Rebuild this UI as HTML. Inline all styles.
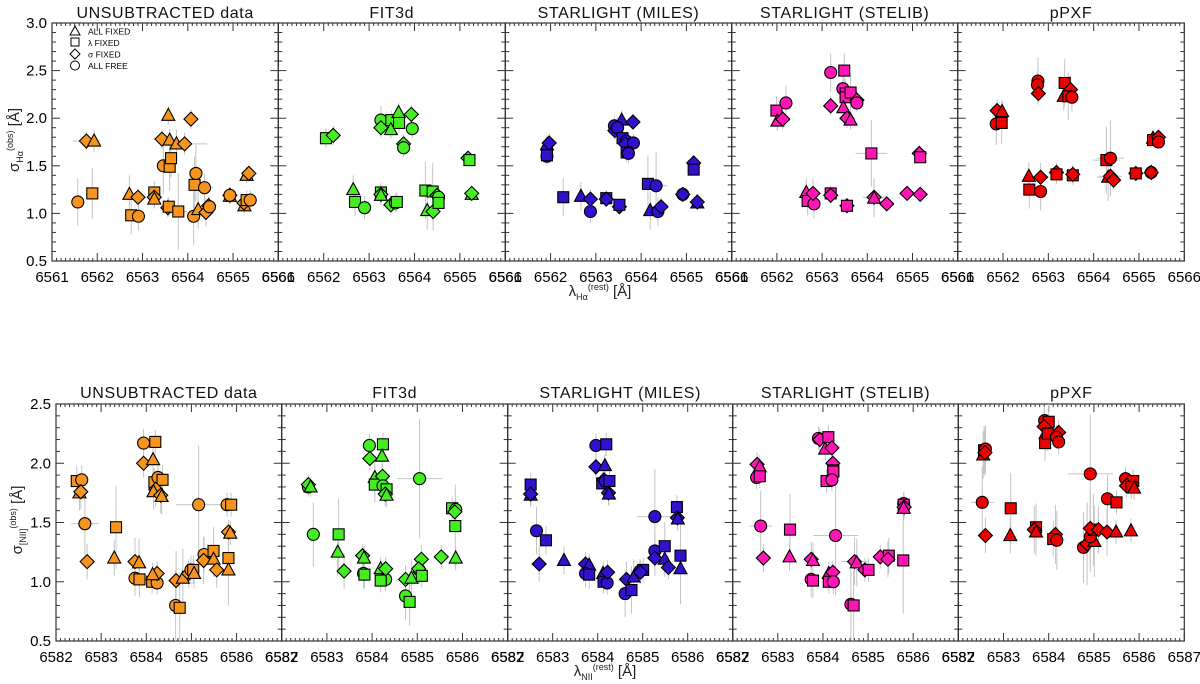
<!DOCTYPE html>
<html><head><meta charset="utf-8">
<style>
html,body{margin:0;padding:0;background:#fff;}
svg{display:block;font-family:"Liberation Sans",sans-serif;}
</style></head>
<body>
<svg id="fig" width="1200" height="684" viewBox="0 0 1200 684" xmlns="http://www.w3.org/2000/svg"></svg>
<script>
// ---- data: [shape, lambda, sigma, xerr, yerr]; T=all fixed, S=lambda fixed, D=sigma fixed, C=all free
const titles = ["UNSUBTRACTED data","FIT3d","STARLIGHT (MILES)","STARLIGHT (STELIB)","pPXF"];
const colors = ["#f7941d","#44ee22","#3311cc","#ff14b4","#ee0000"];
const topXTicks = [6561,6562,6563,6564,6565,6566];
const topYTicks = ["0.5","1.0","1.5","2.0","2.5","3.0"];
const botXTicks = [6582,6583,6584,6585,6586,6587];
const botYTicks = ["0.5","1.0","1.5","2.0","2.5"];

const haUnsub = [
["C",6561.57,1.12,0.15,0.25],["S",6561.89,1.21,0.05,0.27],["D",6561.76,1.76,0.3,0.1],["T",6561.93,1.76,0.08,0.12],
["T",6562.71,1.20,0.1,0.2],["S",6562.75,0.98,0.08,0.2],["C",6562.91,0.97,0.08,0.15],["D",6562.90,1.17,0.08,0.1],
["S",6563.26,1.22,0.08,0.12],["D",6563.26,1.17,0.1,0.1],["T",6563.26,1.15,0.1,0.1],["D",6563.43,1.78,0.2,0.1],
["C",6563.46,1.50,0.1,0.3],["S",6563.60,1.49,0.08,0.25],["S",6563.63,1.58,0.08,0.2],["T",6563.57,2.03,0.06,0.1],
["T",6563.60,1.77,0.15,0.12],["T",6563.75,1.73,0.3,0.15],["D",6563.93,1.73,0.5,0.12],["D",6563.56,1.06,0.1,0.1],
["S",6563.58,1.07,0.1,0.1],["S",6563.79,1.02,0.2,0.4],["D",6564.07,1.99,0.15,0.1],["S",6564.15,1.30,0.1,0.3],
["C",6564.18,1.42,0.1,0.3],["C",6564.13,0.97,0.15,0.3],["T",6564.23,1.04,0.1,0.2],["C",6564.37,1.27,0.2,0.15],
["D",6564.40,1.01,0.1,0.15],["D",6564.46,1.08,0.1,0.1],["C",6564.48,1.07,0.1,0.1],["T",6564.93,1.18,0.1,0.08],
["D",6564.93,1.19,0.1,0.08],["C",6564.93,1.19,0.1,0.08],["T",6565.25,1.08,0.1,0.08],["D",6565.24,1.11,0.1,0.08],
["S",6565.30,1.14,0.1,0.1],["C",6565.38,1.14,0.1,0.1],["T",6565.30,1.40,0.1,0.08],["D",6565.35,1.42,0.1,0.08]
];
const haFit = [
["S",6562.05,1.79,0.08,0.1],["D",6562.21,1.82,0.08,0.1],["T",6562.65,1.25,0.06,0.15],["S",6562.69,1.12,0.06,0.15],
["C",6562.90,1.06,0.06,0.12],["C",6563.26,1.98,0.06,0.15],["D",6563.26,1.90,0.06,0.1],["S",6563.26,1.22,0.06,0.1],
["D",6563.26,1.20,0.06,0.1],["T",6563.26,1.19,0.06,0.1],["S",6563.49,1.98,0.06,0.1],["T",6563.48,1.88,0.06,0.1],
["T",6563.65,2.06,0.06,0.1],["S",6563.66,1.95,0.06,0.1],["D",6563.93,2.04,0.06,0.1],["C",6563.95,1.89,0.06,0.1],
["D",6563.76,1.73,0.06,0.1],["C",6563.76,1.69,0.06,0.1],["D",6563.48,1.09,0.06,0.1],["C",6563.58,1.11,0.06,0.1],
["S",6563.61,1.12,0.06,0.1],["S",6564.24,1.24,0.1,0.3],["T",6564.28,1.03,0.1,0.2],["S",6564.40,1.23,0.1,0.3],
["D",6564.41,1.02,0.1,0.2],["D",6564.50,1.19,0.1,0.1],["C",6564.53,1.17,0.1,0.1],["S",6564.53,1.11,0.1,0.1],
["D",6565.18,1.58,0.06,0.05],["S",6565.21,1.56,0.06,0.05],["T",6565.26,1.20,0.06,0.05],["D",6565.26,1.21,0.06,0.05]
];
const haMiles = [
["T",6561.92,1.72,0.06,0.1],["D",6561.97,1.74,0.06,0.1],["C",6561.92,1.60,0.06,0.1],["S",6561.92,1.61,0.06,0.1],
["S",6562.28,1.17,0.05,0.2],["T",6562.67,1.18,0.1,0.15],["D",6562.88,1.15,0.06,0.1],["C",6562.88,1.02,0.06,0.12],
["S",6563.23,1.16,0.08,0.08],["D",6563.23,1.15,0.08,0.08],["C",6563.41,1.92,0.06,0.1],["D",6563.42,1.87,0.06,0.1],
["T",6563.57,1.98,0.06,0.1],["C",6563.48,1.90,0.06,0.1],["D",6563.82,1.96,0.06,0.08],["S",6563.59,1.79,0.06,0.1],
["C",6563.67,1.76,0.06,0.1],["D",6563.65,1.73,0.06,0.1],["C",6563.83,1.74,0.06,0.1],["S",6563.68,1.64,0.06,0.1],
["C",6563.72,1.63,0.06,0.1],["D",6563.52,1.07,0.06,0.06],["S",6563.52,1.09,0.06,0.06],["S",6564.15,1.31,0.1,0.3],
["C",6564.33,1.29,0.25,0.35],["T",6564.20,1.03,0.06,0.2],["C",6564.37,1.02,0.06,0.15],["D",6564.44,1.07,0.1,0.1],
["C",6564.92,1.20,0.06,0.06],["D",6564.92,1.20,0.06,0.06],["D",6565.16,1.53,0.05,0.05],["S",6565.16,1.46,0.05,0.05],
["T",6565.24,1.11,0.05,0.05],["D",6565.24,1.12,0.05,0.05]
];
const haStelib = [
["S",6561.99,2.08,0.06,0.15],["C",6562.20,2.16,0.06,0.18],["T",6562.01,1.97,0.06,0.1],["D",6562.13,1.99,0.06,0.1],
["T",6562.65,1.22,0.06,0.15],["S",6562.68,1.13,0.06,0.15],["C",6562.82,1.10,0.06,0.15],["D",6562.80,1.21,0.06,0.15],
["C",6563.19,2.48,0.06,0.2],["D",6563.19,2.13,0.06,0.1],["S",6563.19,1.21,0.06,0.08],["D",6563.19,1.19,0.06,0.08],
["S",6563.49,2.50,0.06,0.18],["C",6563.46,2.31,0.06,0.15],["S",6563.52,2.26,0.06,0.15],["S",6563.52,2.22,0.06,0.15],
["S",6563.63,2.27,0.06,0.2],["T",6563.47,2.11,0.06,0.1],["D",6563.55,2.00,0.06,0.1],["T",6563.63,1.98,0.06,0.1],
["D",6563.77,2.19,0.06,0.1],["C",6563.77,2.16,0.06,0.1],["D",6563.55,1.08,0.06,0.06],["S",6563.55,1.08,0.06,0.06],
["S",6564.09,1.63,0.35,0.35],["D",6564.15,1.17,0.25,0.2],["T",6564.15,1.16,0.2,0.2],["D",6564.43,1.10,0.06,0.06],
["D",6564.88,1.21,0.06,0.06],["D",6565.15,1.63,0.05,0.05],["S",6565.17,1.59,0.05,0.05],["D",6565.17,1.20,0.05,0.05]
];
const haPpxf = [
["D",6561.87,2.08,0.06,0.12],["T",6561.98,2.07,0.06,0.12],["C",6561.85,1.94,0.06,0.22],["S",6561.97,1.95,0.06,0.22],
["T",6562.57,1.39,0.06,0.15],["S",6562.58,1.25,0.06,0.2],["D",6562.83,1.38,0.06,0.15],["C",6562.83,1.23,0.06,0.2],
["C",6562.77,2.39,0.1,0.25],["C",6562.76,2.35,0.1,0.15],["D",6562.78,2.26,0.08,0.1],["D",6563.18,1.43,0.06,0.1],
["S",6563.18,1.41,0.06,0.1],["S",6563.36,2.37,0.06,0.25],["D",6563.49,2.30,0.06,0.15],["T",6563.34,2.23,0.06,0.15],
["S",6563.44,2.23,0.06,0.25],["C",6563.52,2.22,0.06,0.15],["S",6563.54,1.40,0.06,0.1],["D",6563.54,1.41,0.06,0.1],
["S",6564.28,1.56,0.3,0.35],["C",6564.37,1.58,0.3,0.4],["T",6564.32,1.38,0.25,0.25],["D",6564.37,1.39,0.25,0.2],
["D",6564.44,1.35,0.1,0.1],["D",6564.93,1.42,0.06,0.06],["S",6564.93,1.42,0.06,0.06],["C",6565.27,1.43,0.06,0.06],
["D",6565.27,1.43,0.06,0.06],["T",6565.31,1.79,0.06,0.06],["S",6565.31,1.77,0.06,0.06],["D",6565.43,1.80,0.06,0.06],
["C",6565.43,1.75,0.06,0.06]
];
const niiUnsub = [
["S",6582.46,1.85,0.06,0.12],["C",6582.57,1.86,0.06,0.12],["T",6582.52,1.75,0.06,0.15],["D",6582.55,1.76,0.06,0.15],
["C",6582.64,1.49,0.3,0.3],["D",6582.69,1.17,0.15,0.15],["S",6583.33,1.46,0.06,0.35],["T",6583.29,1.20,0.06,0.15],
["D",6583.75,1.17,0.06,0.2],["T",6583.84,1.16,0.06,0.2],["C",6583.75,1.03,0.06,0.15],["S",6583.85,1.02,0.06,0.15],
["C",6583.94,2.17,0.06,0.12],["D",6583.94,2.00,0.06,0.12],["T",6584.15,2.03,0.06,0.12],["S",6584.20,2.18,0.06,0.1],
["S",6584.18,1.84,0.06,0.12],["C",6584.26,1.88,0.06,0.12],["S",6584.36,1.86,0.06,0.12],["D",6584.21,1.78,0.06,0.15],
["T",6584.16,1.76,0.06,0.15],["D",6584.32,1.73,0.06,0.15],["T",6584.34,1.72,0.06,0.15],["S",6584.13,1.00,0.06,0.1],
["C",6584.24,0.99,0.06,0.1],["D",6584.24,1.07,0.06,0.1],["T",6584.14,1.06,0.06,0.1],["D",6584.66,1.01,0.1,0.25],
["T",6584.81,1.03,0.1,0.25],["C",6584.65,0.80,0.1,0.3],["S",6584.74,0.78,0.1,0.3],["D",6584.94,1.07,0.1,0.12],
["C",6584.99,1.10,0.1,0.12],["S",6585.04,1.10,0.1,0.12],["T",6585.06,1.07,0.1,0.12],["C",6585.16,1.65,0.5,0.5],
["C",6585.28,1.23,0.1,0.15],["D",6585.27,1.18,0.1,0.2],["S",6585.49,1.26,0.1,0.2],["T",6585.49,1.19,0.1,0.15],
["D",6585.56,1.10,0.1,0.15],["C",6585.79,1.65,0.06,0.1],["S",6585.88,1.65,0.06,0.1],["D",6585.82,1.42,0.06,0.1],
["T",6585.86,1.41,0.06,0.1],["S",6585.82,1.20,0.06,0.15],["T",6585.82,1.10,0.06,0.3]
];
const niiFit = [
["C",6582.59,1.80,0.06,0.08],["D",6582.59,1.82,0.06,0.08],["T",6582.64,1.80,0.06,0.08],["C",6582.70,1.40,0.15,0.27],
["S",6583.26,1.40,0.06,0.3],["T",6583.24,1.25,0.06,0.2],["D",6583.38,1.09,0.06,0.15],["D",6583.79,1.22,0.06,0.1],
["T",6583.82,1.20,0.06,0.1],["C",6583.81,1.07,0.06,0.12],["S",6583.83,1.06,0.06,0.12],["C",6583.94,2.15,0.06,0.1],
["D",6583.95,2.04,0.06,0.1],["S",6584.24,2.16,0.06,0.1],["T",6584.22,2.06,0.06,0.1],["T",6584.06,1.88,0.06,0.15],
["S",6584.06,1.82,0.06,0.15],["D",6584.23,1.89,0.06,0.1],["C",6584.24,1.81,0.06,0.1],["S",6584.32,1.78,0.06,0.1],
["D",6584.29,1.74,0.06,0.1],["T",6584.32,1.73,0.06,0.1],["T",6584.19,1.11,0.06,0.1],["C",6584.30,1.02,0.06,0.1],
["S",6584.19,1.01,0.06,0.1],["D",6584.30,1.11,0.06,0.1],["D",6584.74,1.02,0.1,0.12],["T",6584.87,1.03,0.1,0.15],
["C",6584.74,0.88,0.06,0.2],["S",6584.83,0.83,0.06,0.2],["C",6585.05,1.87,0.5,0.5],["D",6585.09,1.19,0.1,0.12],
["C",6585.04,1.10,0.1,0.12],["D",6585.03,1.11,0.1,0.12],["S",6585.10,1.05,0.06,0.1],["D",6585.53,1.21,0.06,0.1],
["T",6585.85,1.20,0.06,0.1],["S",6585.77,1.62,0.06,0.1],["C",6585.85,1.61,0.06,0.1],["D",6585.83,1.59,0.06,0.1],
["S",6585.84,1.47,0.06,0.35]
];
const niiMiles = [
["S",6582.51,1.82,0.06,0.1],["T",6582.51,1.73,0.06,0.1],["D",6582.51,1.74,0.06,0.1],["C",6582.64,1.43,0.15,0.2],
["D",6582.70,1.15,0.06,0.15],["S",6582.85,1.35,0.06,0.12],["T",6583.25,1.18,0.1,0.12],["D",6583.73,1.15,0.06,0.1],
["T",6583.81,1.14,0.06,0.1],["C",6583.73,1.07,0.06,0.12],["S",6583.81,1.06,0.06,0.12],["C",6583.96,2.15,0.06,0.1],
["S",6584.19,2.16,0.06,0.1],["D",6583.96,1.97,0.06,0.1],["T",6584.16,1.98,0.06,0.1],["S",6584.10,1.83,0.06,0.1],
["D",6584.14,1.86,0.06,0.1],["C",6584.17,1.85,0.06,0.1],["S",6584.26,1.85,0.06,0.1],["D",6584.24,1.75,0.06,0.1],
["T",6584.25,1.74,0.06,0.1],["T",6584.12,1.07,0.06,0.1],["S",6584.13,1.00,0.06,0.1],["C",6584.21,0.99,0.06,0.1],
["D",6584.22,1.08,0.06,0.1],["D",6584.64,1.02,0.06,0.15],["T",6584.80,1.04,0.06,0.15],["C",6584.61,0.90,0.06,0.2],
["S",6584.75,0.93,0.06,0.2],["C",6584.94,1.09,0.1,0.1],["S",6585.01,1.10,0.1,0.1],["D",6584.95,1.08,0.1,0.1],
["C",6585.27,1.55,0.4,0.4],["C",6585.27,1.26,0.1,0.15],["D",6585.27,1.20,0.1,0.15],["S",6585.49,1.30,0.06,0.2],
["T",6585.49,1.19,0.06,0.15],["D",6585.57,1.12,0.06,0.1],["S",6585.76,1.63,0.06,0.1],["D",6585.77,1.54,0.06,0.1],
["T",6585.78,1.53,0.06,0.1],["S",6585.84,1.22,0.06,0.35],["T",6585.84,1.11,0.06,0.3]
];
const niiStelib = [
["D",6582.54,1.99,0.06,0.1],["T",6582.60,1.97,0.06,0.1],["C",6582.53,1.88,0.06,0.1],["S",6582.60,1.89,0.06,0.1],
["C",6582.62,1.47,0.25,0.3],["D",6582.68,1.20,0.15,0.12],["S",6583.27,1.44,0.06,0.3],["T",6583.26,1.21,0.06,0.12],
["D",6583.74,1.19,0.06,0.15],["T",6583.78,1.18,0.06,0.15],["C",6583.74,1.02,0.06,0.15],["S",6583.78,1.01,0.06,0.15],
["C",6583.90,2.21,0.06,0.1],["D",6583.93,2.20,0.06,0.1],["S",6584.12,2.22,0.06,0.1],["T",6584.05,2.12,0.06,0.1],
["D",6584.20,2.13,0.06,0.1],["D",6584.22,2.00,0.06,0.1],["S",6584.23,1.94,0.06,0.1],["S",6584.23,1.93,0.06,0.1],
["S",6584.08,1.85,0.06,0.1],["C",6584.20,1.86,0.06,0.1],["T",6584.13,1.07,0.06,0.1],["D",6584.22,1.08,0.06,0.1],
["S",6584.13,1.00,0.06,0.1],["C",6584.23,1.00,0.06,0.1],["C",6584.28,1.39,0.5,0.5],["D",6584.70,1.17,0.3,0.2],
["T",6584.75,1.16,0.1,0.2],["C",6584.62,0.81,0.1,0.3],["S",6584.68,0.80,0.1,0.3],["D",6584.93,1.10,0.1,0.1],
["S",6585.01,1.10,0.1,0.1],["D",6585.27,1.21,0.1,0.1],["S",6585.46,1.22,0.06,0.15],["D",6585.44,1.19,0.06,0.15],
["S",6585.78,1.18,0.06,0.45],["C",6585.79,1.66,0.06,0.1],["S",6585.79,1.65,0.06,0.1],["D",6585.80,1.63,0.06,0.1],
["T",6585.79,1.62,0.06,0.1]
];
const niiPpxf = [
["T",6582.55,2.07,0.06,0.2],["S",6582.57,2.11,0.06,0.2],["C",6582.60,2.12,0.06,0.2],["D",6582.59,2.09,0.06,0.2],
["C",6582.53,1.67,0.25,0.3],["D",6582.60,1.39,0.06,0.15],["S",6583.16,1.62,0.06,0.3],["T",6583.15,1.39,0.06,0.15],
["S",6583.72,1.46,0.06,0.2],["D",6583.68,1.44,0.06,0.2],["T",6583.72,1.42,0.06,0.2],["C",6583.91,2.36,0.06,0.12],
["S",6584.00,2.35,0.06,0.15],["D",6583.90,2.31,0.06,0.15],["T",6583.93,2.25,0.06,0.15],["S",6583.92,2.17,0.06,0.15],
["S",6583.98,2.25,0.06,0.15],["D",6584.22,2.26,0.06,0.1],["C",6584.17,2.22,0.06,0.1],["C",6584.22,2.18,0.06,0.1],
["D",6584.15,1.40,0.06,0.25],["S",6584.10,1.36,0.1,0.15],["C",6584.18,1.35,0.1,0.25],["C",6584.92,1.91,0.5,0.5],
["C",6584.77,1.29,0.1,0.3],["D",6584.85,1.32,0.1,0.35],["T",6585.01,1.34,0.1,0.3],["C",6584.92,1.38,0.1,0.3],
["S",6584.99,1.44,0.1,0.3],["D",6584.92,1.45,0.1,0.3],["D",6585.10,1.44,0.1,0.2],["D",6585.29,1.42,0.1,0.2],
["C",6585.30,1.70,0.06,0.2],["S",6585.50,1.67,0.06,0.1],["T",6585.49,1.42,0.06,0.1],["T",6585.82,1.43,0.06,0.1],
["C",6585.70,1.87,0.06,0.1],["S",6585.87,1.85,0.06,0.1],["D",6585.72,1.81,0.06,0.1],["S",6585.83,1.80,0.06,0.1],
["T",6585.89,1.79,0.06,0.1]
];
const topData = [haUnsub, haFit, haMiles, haStelib, haPpxf];
const botData = [niiUnsub, niiFit, niiMiles, niiStelib, niiPpxf];

const NS="http://www.w3.org/2000/svg";
const svg=document.getElementById('fig');
function mk(tag, attrs, parent){const e=document.createElementNS(NS,tag);for(const k in attrs)e.setAttribute(k,attrs[k]);(parent||svg).appendChild(e);return e;}

const rows = [
 {lefts:[52,278.3,505.3,731.7,957.7], right:1184.3, top:23, bot:261, x0:6561, x1:6566, y0:0.5, y1:3.0, data:topData, xt:topXTicks, yt:topYTicks, titleY:18, lblY:282, prefix:'halpha'},
 {lefts:[56,281.7,507.7,732.7,958.3], right:1184.3, top:404, bot:641, x0:6582, x1:6587, y0:0.5, y1:2.5, data:botData, xt:botXTicks, yt:botYTicks, titleY:398, lblY:662, prefix:'nii'}
];

function marker(g, shape, cx, cy, col){
  let e;
  if(shape==='C'){ e=mk('circle',{cx:cx,cy:cy,r:6,fill:col,stroke:'#000','stroke-width':1.1},g); }
  else if(shape==='S'){ e=mk('rect',{x:cx-5.5,y:cy-5.5,width:11,height:11,fill:col,stroke:'#000','stroke-width':1.1},g); }
  else if(shape==='D'){ e=mk('polygon',{points:`${cx},${cy-7} ${cx+7},${cy} ${cx},${cy+7} ${cx-7},${cy}`,fill:col,stroke:'#000','stroke-width':1.1},g); }
  else { e=mk('polygon',{points:`${cx},${cy-7} ${cx+6.5},${cy+5} ${cx-6.5},${cy+5}`,fill:col,stroke:'#000','stroke-width':1.1},g); }
  return e;
}

rows.forEach((R,ri)=>{
  R.lefts.forEach((L,pi)=>{
    const Rt = pi<4 ? R.lefts[pi+1] : R.right;
    const sx = v => L + (v-R.x0)/(R.x1-R.x0)*(Rt-L);
    const sy = v => R.bot - (v-R.y0)/(R.y1-R.y0)*(R.bot-R.top);
    const g = mk('g',{});
    
    
    const t = mk('text',{x:(L+Rt)/2,y:R.titleY,'text-anchor':'middle','font-size':16,'letter-spacing':'0.6',fill:'#111'},g);
    t.textContent = titles[pi];
    
    
    mk('rect',{x:L,y:R.top,width:Rt-L,height:R.bot-R.top,fill:'none',stroke:'#333','stroke-width':1.2},g);
    const tk = mk('g',{stroke:'#333','stroke-width':1},g);
    for(let v=R.x0; v<=R.x1+1e-6; v+=0.1){
      const x=sx(v); const major=Math.abs(v-Math.round(v))<1e-6; const len=major?8:3;
      mk('line',{x1:x,y1:R.bot,x2:x,y2:R.bot-len},tk); mk('line',{x1:x,y1:R.top,x2:x,y2:R.top+len},tk);
    }
    for(let v=R.y0; v<=R.y1+1e-6; v+=0.1){
      const y=sy(v); const major=Math.abs(v*2-Math.round(v*2))<1e-6; const len=major?8:4;
      mk('line',{x1:L,y1:y,x2:L+len,y2:y},tk); mk('line',{x1:Rt,y1:y,x2:Rt-len,y2:y},tk);
    }
    R.xt.forEach(v=>{
      const tl=mk('text',{x:sx(v),y:R.lblY,'text-anchor':'middle','font-size':15},g);
      tl.textContent=v;
      
      
    });
    if(pi===0){
      R.yt.forEach(s=>{
        const tl=mk('text',{x:L-5,y:sy(parseFloat(s))+5,'text-anchor':'end','font-size':15},g);
        tl.textContent=s;
        
        
      });
    }
    const eg = mk('g',{stroke:'#c4c4c4','stroke-width':1},g);
    R.data[pi].forEach(p=>{
      const cx=sx(p[1]), cy=sy(p[2]);
      mk('line',{x1:sx(p[1]-p[3]),y1:cy,x2:sx(p[1]+p[3]),y2:cy},eg);
      mk('line',{x1:cx,y1:sy(p[2]-p[4]),x2:cx,y2:sy(p[2]+p[4])},eg);
    });
    const mg = mk('g',{},g);
    R.data[pi].forEach(p=>{
      const m = marker(mg,p[0],sx(p[1]),sy(p[2]),colors[pi]);
      
      
    });
  });
});

const leg = mk('g',{});


const legShapes=["T","S","D","C"], legLabels=["ALL FIXED","λ FIXED","σ FIXED","ALL FREE"];
legShapes.forEach((s,i)=>{
  const y=31+i*11.5;
  let m;
  if(s==='T') m=mk('polygon',{points:`75,${y-5} 80,${y+4} 70,${y+4}`,fill:'none',stroke:'#000'},leg);
  else if(s==='S') m=mk('rect',{x:71,y:y-4.5,width:8,height:8,fill:'none',stroke:'#000'},leg);
  else if(s==='D') m=mk('polygon',{points:`75,${y-5} 80,${y} 75,${y+5} 70,${y}`,fill:'none',stroke:'#000'},leg);
  else m=mk('circle',{cx:75,cy:y,r:4.5,fill:'none',stroke:'#000'},leg);
  
  
  const t=mk('text',{x:88,y:y+3.5,'font-size':8.5},leg);
  t.textContent=legLabels[i];
  
  
});
</script>
<div style="position:absolute;left:0;top:0;width:1200px;height:684px;pointer-events:none;font-family:'Liberation Sans',sans-serif;">
  <div style="position:absolute;left:-50px;top:130px;width:130px;text-align:center;transform:rotate(-90deg);font-size:15px;color:#222;">σ<sub style="font-size:9px">Hα</sub><sup style="font-size:9px">(obs)</sup> [Å]</div>
  <div style="position:absolute;left:-47px;top:510px;width:130px;text-align:center;transform:rotate(-90deg);font-size:15px;color:#222;">σ<sub style="font-size:9px">[NII]</sub><sup style="font-size:9px">(obs)</sup> [Å]</div>
  <div style="position:absolute;left:540px;top:282px;width:120px;text-align:center;font-size:15px;color:#222;">λ<sub style="font-size:9px">Hα</sub><sup style="font-size:9px">(rest)</sup> [Å]</div>
  <div style="position:absolute;left:545px;top:662px;width:120px;text-align:center;font-size:15px;color:#222;">λ<sub style="font-size:9px">NII</sub><sup style="font-size:9px">(rest)</sup> [Å]</div>
</div>
</body></html>
